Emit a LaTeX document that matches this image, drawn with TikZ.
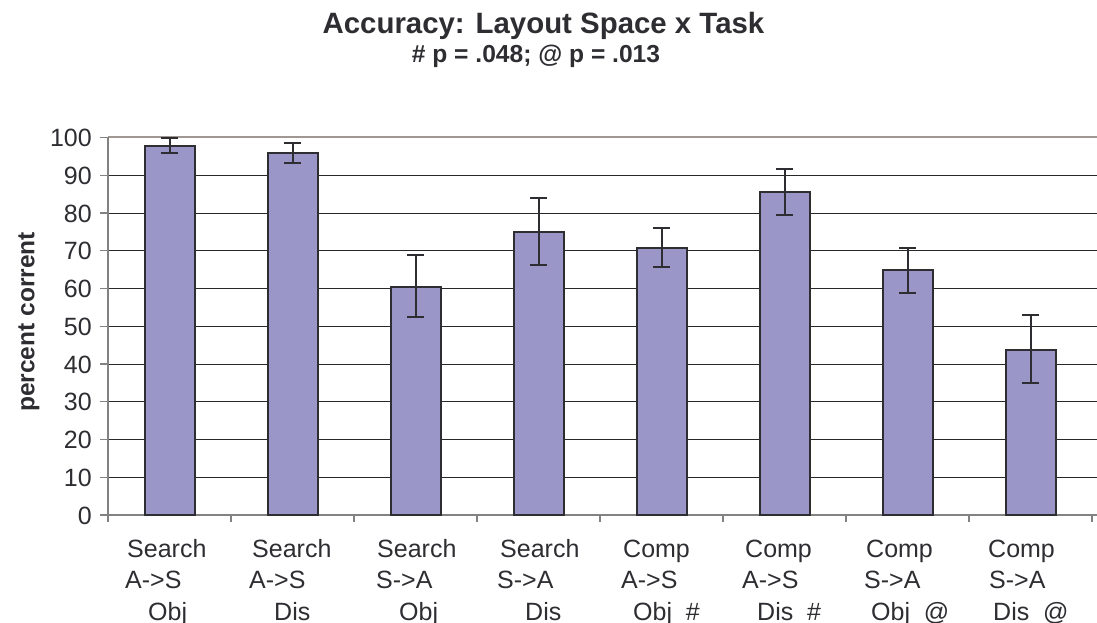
\documentclass[tikz,border=0pt]{standalone}
\usepackage{fontspec}
\setmainfont{Liberation Sans}
\definecolor{barfill}{RGB}{154,150,200}
\definecolor{ink}{RGB}{45,45,50}
\definecolor{topline}{RGB}{160,150,146}
\definecolor{gridc}{RGB}{40,40,40}
\definecolor{axisc}{RGB}{130,130,130}
\begin{document}
\begin{tikzpicture}[x=1pt,y=-1pt,
  bar/.style={draw=ink,line width=2pt,fill=barfill},
  errbar/.style={draw=ink,line width=2pt},
  grid/.style={draw=gridc,line width=0.9pt},
  axis/.style={draw=axisc,line width=1.2pt},
  ticklab/.style={font=\fontsize{25}{25}\selectfont,text=ink,anchor=base east,inner sep=0pt},
  catlab/.style={font=\fontsize{25}{25}\selectfont,text=ink,anchor=base west,inner sep=0pt},
  titlelab/.style={font=\fontsize{29.4}{30}\selectfont\bfseries,text=ink,anchor=base,inner sep=0pt},
  sublab/.style={font=\fontsize{24.6}{25}\selectfont\bfseries,text=ink,anchor=base,inner sep=0pt}]
\useasboundingbox (0,0) rectangle (1097,623);
% gridlines
\foreach \v in {10,20,...,90}{
  \draw[grid] (108,{515-3.775*\v}) -- (1097,{515-3.775*\v});
}
\draw[draw=topline,line width=2pt] (108,137.5) -- (1097,137.5);
% axes
\draw[axis] (108,137.5) -- (108,515);
\draw[axis] (108,515) -- (1097,515);
\foreach \v in {0,10,...,100}{
  \draw[axis] (100,{515-3.775*\v}) -- (108,{515-3.775*\v});
  \node[ticklab] (t\v) at (92,{515-3.775*\v+9}) {\v};
}
\foreach \i in {0,...,8}{
  \draw[axis] ({108+123*\i},515) -- ({108+123*\i},522);
}
% bars
\foreach \i/\h/\lo/\hi in {1/97.8/95.8/100,2/95.9/93.2/98.5,3/60.4/52.4/68.8,4/75/66.2/84,5/70.8/65.7/76,6/85.6/79.5/91.7,7/64.8/58.8/70.8,8/43.7/35/53}{
  \pgfmathsetmacro{\cx}{108+123*(\i-0.5)}
  \draw[bar] ({\cx-25},515) rectangle ({\cx+25},{515-3.775*\h});
  \draw[errbar] (\cx,{515-3.775*\lo}) -- (\cx,{515-3.775*\hi});
  \draw[errbar] ({\cx-8.5},{515-3.775*\lo}) -- ({\cx+8.5},{515-3.775*\lo});
  \draw[errbar] ({\cx-8.5},{515-3.775*\hi}) -- ({\cx+8.5},{515-3.775*\hi});
}
% category labels
\foreach \i/\a/\b/\c/\xa/\xb/\xc in {
  1/Search/A->S/Obj/127/125/148,
  2/Search/A->S/Dis/252/249/274,
  3/Search/S->A/Obj/377/376/399,
  4/Search/S->A/Dis/500/497/525,
  5/Comp/A->S/Obj\ \ \#/623/621/633,
  6/Comp/A->S/Dis\ \ \#/745/742/757,
  7/Comp/S->A/Obj\ \ @/866/864/871,
  8/Comp/S->A/Dis\ \ @/988/989/993}{
  \node[catlab] (ca\i) at (\xa,557) {\a};
  \node[catlab] (cb\i) at (\xb,588.5) {\b};
  \node[catlab] (cc\i) at (\xc,620) {\c};
}
% titles
\node[titlelab] (title) at (543.5,34) {Accuracy: Layout Space x Task};
\node[sublab] (sub) at (536,63) {\# p = .048; @ p = .013};
\node[font=\fontsize{24.5}{25}\selectfont\bfseries,text=ink,rotate=90,inner sep=0pt] (ylab) at (29,322) {percent corrent};
\end{tikzpicture}
\end{document}
